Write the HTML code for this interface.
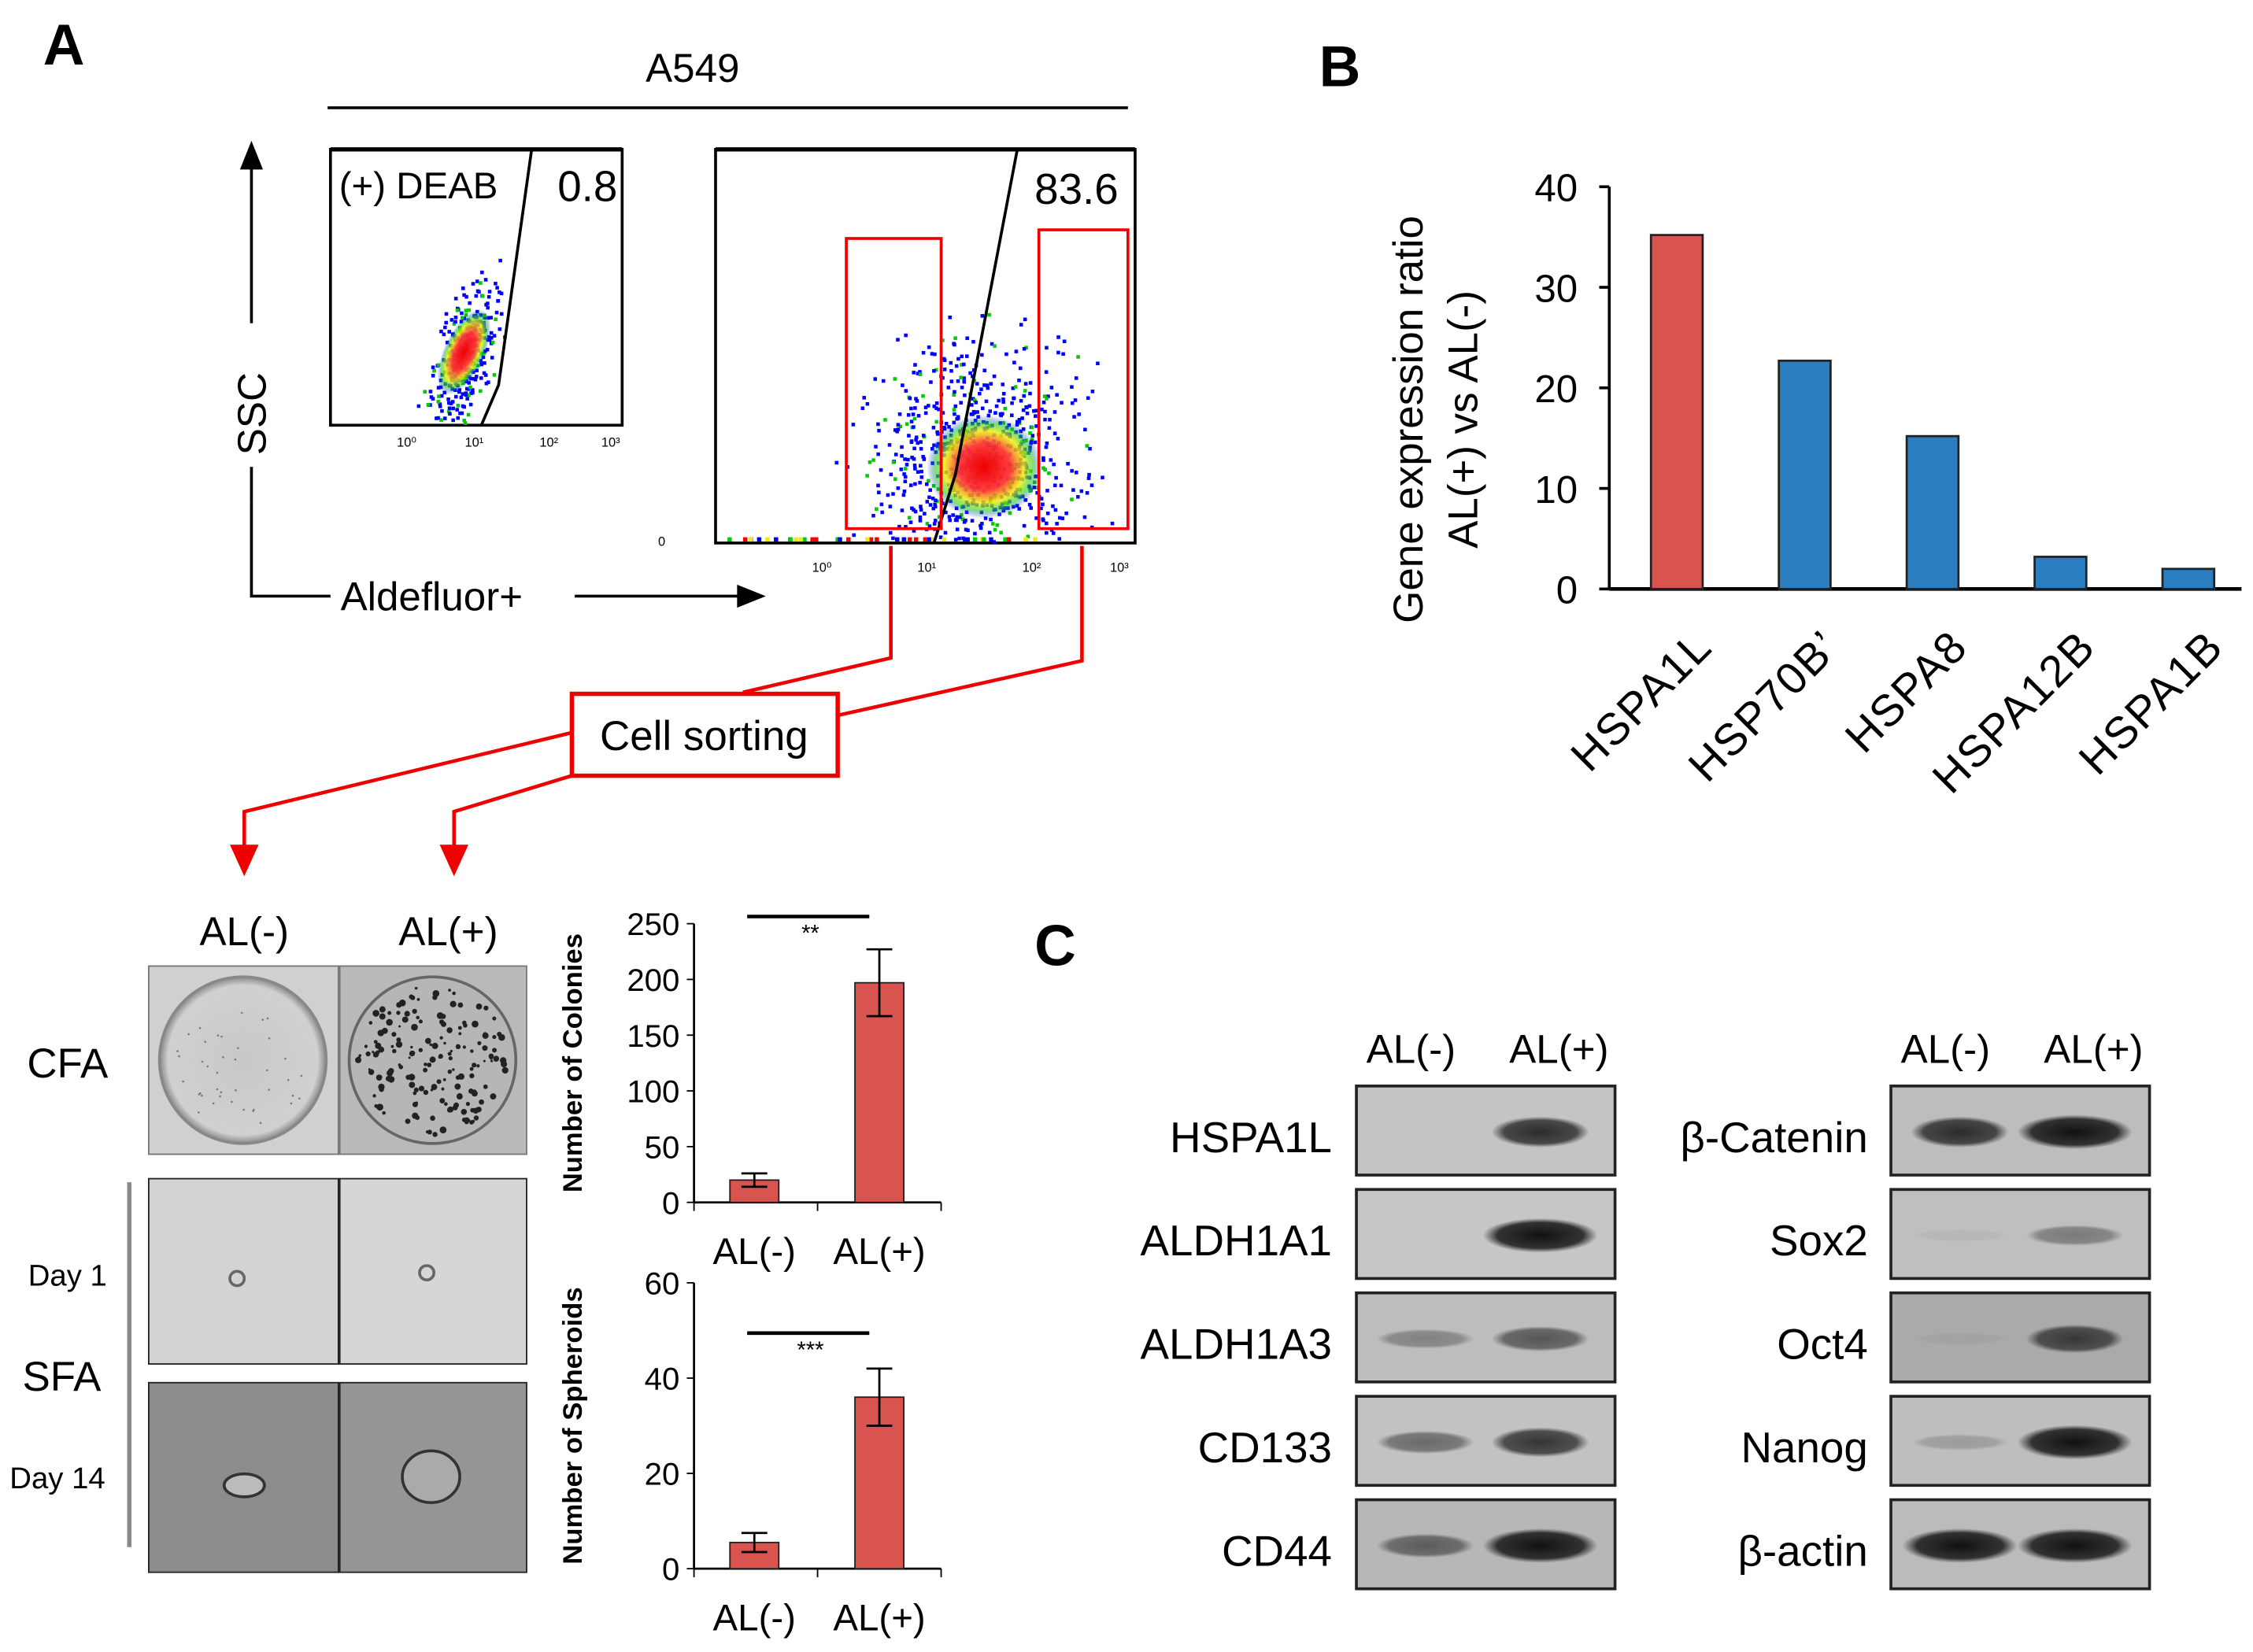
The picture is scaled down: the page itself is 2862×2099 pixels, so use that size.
<!DOCTYPE html>
<html><head><meta charset="utf-8">
<style>
html,body{margin:0;padding:0;background:#fff;}
svg{display:block;font-family:"Liberation Sans",sans-serif;}
</style></head>
<body>
<svg id="fig" width="2862" height="2099" viewBox="0 0 1568 1150" preserveAspectRatio="none" xmlns="http://www.w3.org/2000/svg">
<defs>
<radialGradient id="blob" cx="50%" cy="50%" r="50%">
<stop offset="0" stop-color="#e00" stop-opacity="1"/><stop offset="0.45" stop-color="#f33" stop-opacity="0.95"/><stop offset="0.7" stop-color="#ee0" stop-opacity="0.8"/><stop offset="0.85" stop-color="#2c2" stop-opacity="0.6"/><stop offset="1" stop-color="#00f" stop-opacity="0"/>
</radialGradient>
<radialGradient id="band" cx="50%" cy="50%" r="50%"><stop offset="0" stop-color="#111"/><stop offset="0.75" stop-color="#222" stop-opacity="0.9"/><stop offset="1" stop-color="#333" stop-opacity="0"/></radialGradient>
<radialGradient id="dish" cx="50%" cy="50%" r="50%"><stop offset="0" stop-color="#c8c8c8"/><stop offset="0.9" stop-color="#d0d0d0"/><stop offset="1" stop-color="#888"/></radialGradient>
</defs>

<text x="30" y="45" font-size="40" font-weight="bold">A</text>
<text x="482" y="57" font-size="28" text-anchor="middle">A549</text>
<line x1="228" y1="75" x2="785" y2="75" stroke="#000" stroke-width="2"/>

<g id="flow1">
<rect x="230" y="104" width="203" height="192" fill="#fff" stroke="#000" stroke-width="2"/>
<line x1="230" y1="104" x2="433" y2="104" stroke="#000" stroke-width="3"/>
</g>
<g id="flow2">
<rect x="498" y="104" width="292" height="274" fill="#fff" stroke="#000" stroke-width="2"/>
<line x1="498" y1="104" x2="790" y2="104" stroke="#000" stroke-width="3"/>
</g>
<g id="dots"></g>
<ellipse cx="323" cy="245" rx="14" ry="32" transform="rotate(25 323 245)" fill="url(#blob)"/>
<ellipse cx="685" cy="325" rx="40" ry="36" fill="url(#blob)"/>
<polyline points="370,104 347,268 335,296" fill="none" stroke="#000" stroke-width="2"/>
<polyline points="708,104 665,330 650,378" fill="none" stroke="#000" stroke-width="2"/>
<text x="236" y="138" font-size="26">(+) DEAB</text>
<text x="388" y="140" font-size="30">0.8</text>
<text x="720" y="142" font-size="30">83.6</text>
<rect x="589" y="166" width="66" height="202" fill="none" stroke="#e00" stroke-width="2"/>
<rect x="723" y="160" width="62" height="208" fill="none" stroke="#e00" stroke-width="2"/>
<g font-size="9" fill="#000"><text x="572" y="398" text-anchor="middle">10⁰</text><text x="645" y="398" text-anchor="middle">10¹</text><text x="718" y="398" text-anchor="middle">10²</text><text x="779" y="398" text-anchor="middle">10³</text>
<text x="283" y="311" text-anchor="middle">10⁰</text><text x="330" y="311" text-anchor="middle">10¹</text><text x="382" y="311" text-anchor="middle">10²</text><text x="425" y="311" text-anchor="middle">10³</text><text x="458" y="380">0</text></g>

<line x1="175" y1="350" x2="175" y2="115" stroke="#000" stroke-width="2"/>
<polygon points="175,98 167,118 183,118" fill="#000"/>
<rect x="160" y="225" width="30" height="100" fill="#fff"/>
<text transform="translate(185,288) rotate(-90)" font-size="28" text-anchor="middle">SSC</text>
<polyline points="175,350 175,415 230,415" fill="none" stroke="#000" stroke-width="2"/>
<text x="237" y="425" font-size="28">Aldefluor+</text>
<line x1="400" y1="415" x2="515" y2="415" stroke="#000" stroke-width="2"/>
<polygon points="533,415 513,407 513,423" fill="#000"/>

<g stroke="#e00" stroke-width="2.5" fill="none">
<polyline points="620,380 620,458 517,482"/>
<polyline points="753,380 753,460 583,498"/>
<polyline points="398,510 170,565 170,590"/>
<polyline points="398,540 316,565 316,590"/>
</g>
<polygon points="170,610 160,588 180,588" fill="#e00"/>
<polygon points="316,610 306,588 326,588" fill="#e00"/>
<rect x="398" y="483" width="185" height="57" fill="#fff" stroke="#e00" stroke-width="3"/>
<text x="490" y="522" font-size="29" text-anchor="middle">Cell sorting</text>

<text x="170" y="658" font-size="28" text-anchor="middle">AL(-)</text>
<text x="312" y="658" font-size="28" text-anchor="middle">AL(+)</text>
<rect x="103" y="672" width="264" height="132" fill="#777"/>
<rect x="104" y="673" width="131" height="130" fill="#d0d0d0"/><rect x="237" y="673" width="129" height="130" fill="#b9b9b9"/>
<circle cx="169" cy="738" r="58" fill="url(#dish)" stroke="#888" stroke-width="2"/>
<circle cx="301" cy="738" r="58" fill="#b6b6b6" stroke="#666" stroke-width="2"/>
<g id="colonies"></g>
<rect x="103" y="820" width="264" height="130" fill="#222"/>
<rect x="104" y="821" width="131" height="128" fill="#d3d3d3"/><rect x="237" y="821" width="129" height="128" fill="#d6d6d6"/>
<circle cx="165" cy="890" r="5" fill="none" stroke="#666" stroke-width="2"/><circle cx="297" cy="886" r="5" fill="none" stroke="#666" stroke-width="2"/>
<rect x="103" y="962" width="264" height="133" fill="#222"/>
<rect x="104" y="963" width="131" height="131" fill="#8c8c8c"/><rect x="237" y="963" width="129" height="131" fill="#959595"/>
<ellipse cx="170" cy="1034" rx="14" ry="8" fill="#bbb" stroke="#333" stroke-width="2"/>
<ellipse cx="300" cy="1028" rx="20" ry="18" fill="#aaa" stroke="#333" stroke-width="2"/>
<text x="47" y="750" font-size="29" text-anchor="middle">CFA</text>
<text x="47" y="895" font-size="21" text-anchor="middle">Day 1</text>
<text x="43" y="968" font-size="29" text-anchor="middle">SFA</text>
<text x="40" y="1036" font-size="21" text-anchor="middle">Day 14</text>
<line x1="90" y1="823" x2="90" y2="1077" stroke="#888" stroke-width="3"/>

<g id="colchart"></g>
<g id="sphchart"></g>

<text x="918" y="60" font-size="40" font-weight="bold">B</text>
<g id="bchart"></g>
<text transform="translate(990,292) rotate(-90)" font-size="29" text-anchor="middle">Gene expression ratio</text>
<text transform="translate(1028,292) rotate(-90)" font-size="29" text-anchor="middle">AL(+) vs AL(-)</text>

<text x="720" y="672" font-size="40" font-weight="bold">C</text>
<g id="blots"></g>

<script>
var NS="http://www.w3.org/2000/svg";
function mk(tag,at,parent,txt){var e=document.createElementNS(NS,tag);for(var k in at)e.setAttribute(k,at[k]);if(txt!==undefined)e.textContent=txt;(parent||document.getElementById('fig')).appendChild(e);return e;}
var seed=7;function rnd(){seed=(seed*16807)%2147483647;return seed/2147483647;}
function gauss(){return (rnd()+rnd()+rnd()-1.5)/1.5;}
var dg=document.getElementById('dots');
for(var i=0;i<300;i++){var y=245+gauss()*75,x=323+gauss()*28+(245-y)*0.3; if(x<232||x>430||y<106||y>294)continue; mk('rect',{x:x,y:y,width:2.5,height:2.5,fill:rnd()<0.8?'#00f':'#0c0'},dg);}
for(var i=0;i<750;i++){var x=680+gauss()*110,y=315+gauss()*110; if(x<500||x>788||y<106||y>376)continue; mk('rect',{x:x,y:y,width:2.5,height:2.5,fill:rnd()<0.85?'#00f':'#0c0'},dg);}
for(var i=0;i<40;i++){mk('rect',{x:500+rnd()*220,y:374,width:3,height:3,fill:['#f00','#ee0','#0c0','#00f'][i%4]},dg);}
var cg=document.getElementById('colonies');
for(var i=0;i<170;i++){var a=rnd()*6.28,r=Math.sqrt(rnd())*52;mk('circle',{cx:301+Math.cos(a)*r,cy:738+Math.sin(a)*r,r:0.8+rnd()*1.6,fill:'#222'},cg);}
for(var i=0;i<40;i++){var a=rnd()*6.28,r=Math.sqrt(rnd())*50;mk('circle',{cx:169+Math.cos(a)*r,cy:745+Math.sin(a)*r*0.8,r:0.7,fill:'#777'},cg);}

var smallCats=["AL(-)","AL(+)"];
var colVals=[20,197];var colErr=[6,30];var colTicks=[0,50,100,150,200,250];
var sphVals=[5.5,36];var sphErr=[2,6];var sphTicks=[0,20,40,60];
function smallChart(gid,vals,errs,ticks,top,bot,title,star,starY){
 var g=document.getElementById(gid),x0=483,x1=655,max=ticks[ticks.length-1];
 function Y(v){return bot-(v/max)*(bot-top);}
 function X(i){return 525+i*87;}
 mk('line',{x1:x0,y1:top,x2:x0,y2:bot,stroke:'#000','stroke-width':1.5},g);
 mk('line',{x1:x0,y1:bot,x2:x1,y2:bot,stroke:'#000','stroke-width':1.5},g);
 ticks.forEach(function(t){mk('line',{x1:x0-5,y1:Y(t),x2:x0,y2:Y(t),stroke:'#000'},g);var e=mk('text',{x:x0-10,y:Y(t)+8,'font-size':22,'text-anchor':'end'},g,t);});
 [x0,569,x1].forEach(function(x){mk('line',{x1:x,y1:bot,x2:x,y2:bot+6,stroke:'#000'},g);});
 vals.forEach(function(v,i){var r=mk('rect',{x:X(i)-17,y:Y(v),width:34,height:bot-Y(v),fill:'#d9534f',stroke:'#222','stroke-width':1},g);
  
  var e1=Y(v+errs[i]),e2=Y(Math.max(0,v-errs[i]));
  mk('line',{x1:X(i),y1:e1,x2:X(i),y2:e2,stroke:'#000','stroke-width':1.5},g);
  mk('line',{x1:X(i)-9,y1:e1,x2:X(i)+9,y2:e1,stroke:'#000','stroke-width':1.5},g);
  mk('line',{x1:X(i)-9,y1:e2,x2:X(i)+9,y2:e2,stroke:'#000','stroke-width':1.5},g);
  var t=mk('text',{x:X(i),y:bot+43,'font-size':26,'text-anchor':'middle'},g,smallCats[i]);});
 mk('line',{x1:520,y1:starY-12,x2:605,y2:starY-12,stroke:'#000','stroke-width':2.5},g);
 mk('text',{x:564,y:starY+5,'font-size':16,'text-anchor':'middle'},g,star);
 var tt=mk('text',{transform:'translate(405,'+((top+bot)/2)+') rotate(-90)','font-size':19,'font-weight':'bold','text-anchor':'middle'},g,title);
 
}
smallChart('colchart',colVals,colErr,colTicks,643,837,'Number of Colonies','**',650);
smallChart('sphchart',sphVals,sphErr,sphTicks,893,1092,'Number of Spheroids','***',940);

var geneCats=["HSPA1L","HSP70B’","HSPA8","HSPA12B","HSPA1B"];
var geneVals=[35.2,22.7,15.2,3.2,2.0];
var geneTicks=[0,10,20,30,40];
(function(){var g=document.getElementById('bchart'),x0=1120,x1=1560,top=130,bot=410,max=40;
 function Y(v){return bot-v/max*(bot-top);}function X(i){return 1167+i*89;}
 mk('line',{x1:x0,y1:top,x2:x0,y2:bot,stroke:'#000','stroke-width':2},g);
 mk('line',{x1:x0,y1:bot,x2:x1,y2:bot,stroke:'#000','stroke-width':2.5},g);
 geneTicks.forEach(function(t){mk('line',{x1:x0-7,y1:Y(t),x2:x0,y2:Y(t),stroke:'#000','stroke-width':2},g);var e=mk('text',{x:x0-22,y:Y(t)+10,'font-size':27,'text-anchor':'end'},g,t);});
 geneVals.forEach(function(v,i){var r=mk('rect',{x:X(i)-18,y:Y(v),width:36,height:bot-Y(v),fill:i==0?'#d9534f':'#2a7ec0',stroke:'#222','stroke-width':1.5},g);
  
  var t=mk('text',{transform:'translate('+(X(i)+26)+',452) rotate(-45)','font-size':31,'text-anchor':'end','letter-spacing':'1'},g,geneCats[i]);});
})();

var bl=document.getElementById('blots');
var rowsY=[756,828,900,972,1044];
var leftLab=["HSPA1L","ALDH1A1","ALDH1A3","CD133","CD44"];
var rightLab=["β-Catenin","Sox2","Oct4","Nanog","β-actin"];
var leftB=[[0,0.85],[0,1],[0.35,0.6],[0.5,0.8],[0.55,1]];
var rightB=[[0.85,1],[0.05,0.4],[0.05,0.75],[0.2,1],[1,1]];
var leftBg=['#c4c4c4','#c6c6c6','#bdbdbd','#c2c2c2','#b7b7b7'];
var rightBg=['#bdbdbd','#bfbfbf','#aaaaaa','#bebebe','#bbbbbb'];
function blotCol(x,labels,bands,bgs,lx){
 mk('text',{x:x+38,y:740,'font-size':28,'text-anchor':'middle'},bl,'AL(-)');
 mk('text',{x:x+141,y:740,'font-size':28,'text-anchor':'middle'},bl,'AL(+)');
 rowsY.forEach(function(y,i){
  var r=mk('rect',{x:x,y:y,width:180,height:62,fill:bgs[i],stroke:'#222','stroke-width':2},bl);
  
  bands[i].forEach(function(b,j){if(b<=0)return;mk('ellipse',{cx:x+(j?128:48),cy:y+32,rx:b>0.9?40:34,ry:4+b*8,fill:'url(#band)',opacity:b},bl);});
  var t=mk('text',{x:lx,y:y+46,'font-size':30,'text-anchor':'end'},bl,labels[i]);
  
 });
}
blotCol(944,leftLab,leftB,leftBg,927);
blotCol(1316,rightLab,rightB,rightBg,1300);
</script>
</svg>
</body></html>
